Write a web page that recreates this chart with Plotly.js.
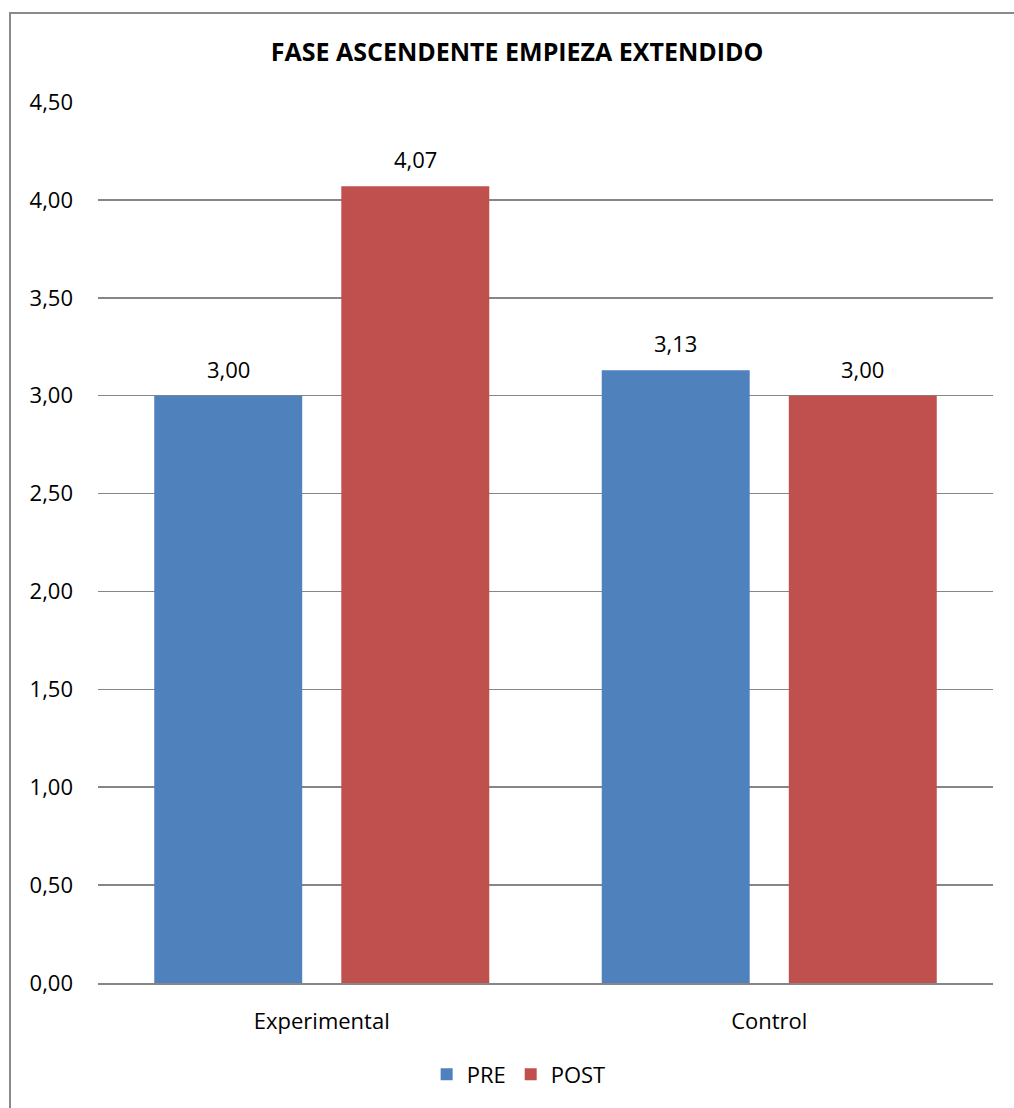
<!DOCTYPE html>
<html>
<head>
<meta charset="utf-8">
<script src="https://cdn.plot.ly/plotly-3.0.1.min.js"></script>
<style>
  html, body { margin: 0; padding: 0; background: #fff; }
  #wrap { position: relative; width: 1014px; height: 1108px; overflow: hidden; }
  #chart { position: absolute; left: 0; top: 0; width: 1014px; height: 1108px; }
  #frame { position: absolute; left: 9px; top: 12px; width: 1100px; height: 1200px;
           border-left: 2px solid #8a8a8a; border-top: 2px solid #8a8a8a; pointer-events: none; }
</style>
</head>
<body>
<div id="wrap">
  <div id="chart"></div>
  <div id="frame"></div>
</div>
<script>
// Group means before and after the intervention
const groups = ['Experimental', 'Control'];
const preValues = [3.00, 3.13];
const postValues = [4.07, 3.00];
const yTicks = [0, 0.5, 1, 1.5, 2, 2.5, 3, 3.5, 4, 4.5];

const font = 'Open Sans, Noto Sans, sans-serif';
const labelSize = 22;

const series = [
  { name: 'PRE', values: preValues, color: '#4f81bd', shift: -93.5 },
  { name: 'POST', values: postValues, color: '#c0504d', shift: 93.5 }
];

const traces = series.map(s => ({
  type: 'bar', name: s.name, x: groups, y: s.values,
  marker: { color: s.color }, hoverinfo: 'skip'
}));

// Value labels sitting above each bar
const fmt = v => v.toFixed(2).replace('.', ',');
const annotations = [];
series.forEach(s => {
  s.values.forEach((v, i) => {
    annotations.push({
      x: groups[i], y: v, xref: 'x', yref: 'y',
      text: fmt(v), showarrow: false,
      xanchor: 'center', yanchor: 'bottom',
      xshift: s.shift, yshift: 10,
      font: { size: labelSize, color: '#000', family: font }
    });
  });
});

const layout = {
  width: 1014, height: 1108,
  separators: ',.',
  paper_bgcolor: '#fff', plot_bgcolor: '#fff',
  margin: { l: 98, r: 21, t: 102, b: 125 },
  font: { family: font, size: labelSize, color: '#000' },
  title: {
    text: '<b>FASE ASCENDENTE EMPIEZA EXTENDIDO</b>',
    font: { family: font, size: 25, color: '#000' },
    x: 0.51, xanchor: 'center', y: 0.953, yanchor: 'middle'
  },
  barmode: 'group', bargap: 0.164, bargroupgap: 0.209,
  xaxis: {
    showgrid: false, showline: true, linecolor: '#868686', linewidth: 2,
    ticks: '', tickfont: { size: labelSize, family: font }, ticklabelstandoff: 18
  },
  yaxis: {
    range: [0, 4.5005], tickvals: yTicks, tickformat: '.2f',
    showgrid: true, gridcolor: '#868686', gridwidth: 1.5,
    zeroline: false, showline: false, ticks: '',
    tickfont: { size: labelSize, family: font }, ticklabelstandoff: 24
  },
  annotations: annotations,
  showlegend: true,
  legend: {
    orientation: 'h', x: 0.47, xanchor: 'center', y: -0.08, yanchor: 'top',
    font: { size: labelSize, family: font }, itemwidth: 20, tracegroupgap: 0
  }
};

Plotly.newPlot('chart', traces, layout, { displayModeBar: false, staticPlot: true });
</script>
</body>
</html>
